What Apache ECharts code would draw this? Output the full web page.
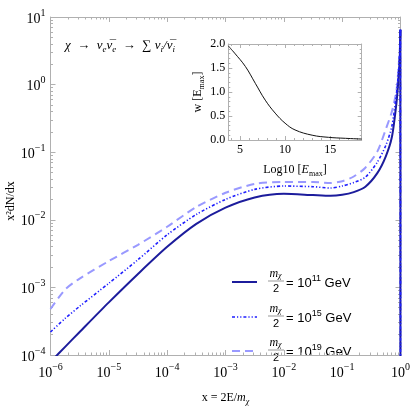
<!DOCTYPE html>
<html>
<head>
<meta charset="utf-8">
<script src="https://cdn.jsdelivr.net/npm/echarts@6/dist/echarts.min.js"></script>
<style>
  html, body { margin: 0; padding: 0; background: #fff; }
  #chart { width: 413px; height: 411px; }
</style>
</head>
<body>
<div id="chart"></div>
<script>
  // x = 2E/m_chi, shared by the three spectra (last point is the drop at x = 1)
  var xValues = [1e-6, 1.78e-6, 3.16e-6, 1e-5, 3.16e-5, 1e-4, 3.16e-4, 1e-3, 3.16e-3, 1e-2, 3.16e-2,
    0.063, 0.1, 0.158, 0.25, 0.4, 0.56, 0.71, 0.85, 0.93, 0.975, 0.995, 1.0]
  // x^2 dN/dx for m_chi/2 = 1e11, 1e15, 1e19 GeV
  var spec11 = [7.9e-5, 1.32e-4, 2.19e-4, 6.0e-4, 1.58e-3, 3.98e-3, 8.7e-3, 1.51e-2, 2.14e-2, 2.43e-2, 2.32e-2,
    2.26e-2, 2.34e-2, 2.57e-2, 3.09e-2, 4.9e-2, 8.7e-2, 0.166, 0.525, 1.32, 2.82, 6.46, 1e-5]
  var spec15 = [2.19e-4, 3.47e-4, 5.25e-4, 1.15e-3, 2.57e-3, 6.0e-3, 1.20e-2, 2.0e-2, 2.82e-2, 3.16e-2, 3.09e-2,
    2.95e-2, 3.16e-2, 3.55e-2, 4.27e-2, 7.1e-2, 0.126, 0.24, 0.72, 1.66, 3.3, 6.46, 1e-5]
  var spec19 = [4.79e-4, 9.3e-4, 1.35e-3, 2.45e-3, 4.27e-3, 7.9e-3, 1.55e-2, 2.51e-2, 3.39e-2, 3.63e-2, 3.63e-2,
    3.5e-2, 3.72e-2, 4.37e-2, 5.9e-2, 0.102, 0.219, 0.398, 0.81, 1.9, 3.55, 6.46, 1e-5]
  var seriesExp = ['11', '15', '19']

  // inset: w[E_max] against log10 E_max
  var insetX = [3.7, 4.4, 5.6, 6.7, 7.8, 8.9, 10, 11.1, 13, 14.8, 16.7, 18.5]
  var insetW = [1.96, 1.81, 1.53, 1.18, 0.83, 0.56, 0.35, 0.21, 0.10, 0.056, 0.035, 0.02]

  // tick labels
  var xMajor = [1e-6, 1e-5, 1e-4, 1e-3, 1e-2, 1e-1, 1]
  var yMajor = [1e-4, 1e-3, 1e-2, 1e-1, 1, 10]
  var insetXTicks = [5, 10, 15]

  function minorTicks(lo, hi) {
    var out = []
    for (var d = lo; d < hi; d++) {
      for (var k = 2; k <= 9; k++) out.push(+(k * Math.pow(10, d)).toPrecision(3))
    }
    return out
  }
  var xMinor = minorTicks(-6, 0)
  var yMinor = minorTicks(-4, 1)
  var insetXMinor = []
  for (var i = 4; i <= 18; i++) if (i % 5) insetXMinor.push(i)

  function pairs(xs, ys) {
    return xs.map(function(x, i) { return [x, ys[i]] })
  }

  var frameColor = '#b0b0b0'
  var serif = '"Liberation Serif", "DejaVu Serif", serif'
  var sans = '"Liberation Sans", Arial, sans-serif'

  var powRich = {
    b: { fontFamily: serif, fontSize: 14, color: '#000', lineHeight: 18, verticalAlign: 'bottom' },
    s: { fontFamily: serif, fontSize: 10, color: '#000', lineHeight: 18, verticalAlign: 'top' }
  }
  function powLabel(v) {
    var e = Math.round(Math.log10(v))
    return '{b|10}{s|' + (e < 0 ? '\u2212' + (-e) : e) + '}'
  }

  function logAxis(dir, pos, custom, len, labels, extra) {
    var ax = {
      type: 'log',
      gridIndex: 0,
      position: pos,
      min: dir === 'x' ? 1e-6 : 1e-4,
      max: dir === 'x' ? 1 : 10,
      axisLine: { show: labels !== null, lineStyle: { color: frameColor, width: 1 } },
      axisTick: { show: true, inside: true, length: len, customValues: custom, lineStyle: { color: frameColor } },
      minorTick: { show: false },
      splitLine: { show: false },
      axisLabel: labels ? labels : { show: false }
    }
    return Object.assign(ax, extra || {})
  }

  function valAxis(pos, extra) {
    return Object.assign({
      type: 'value',
      gridIndex: 1,
      position: pos,
      axisLine: { show: true, lineStyle: { color: frameColor } },
      axisTick: { inside: true, length: 4, lineStyle: { color: frameColor } },
      splitLine: { show: false },
      axisLabel: { show: false }
    }, extra)
  }

  var chart = echarts.init(document.getElementById('chart'))

  var lineStyles = [
    { color: '#1c1c9c', width: 2, type: 'solid' },
    { color: '#1e1eff', width: 1.6, type: [3, 2, 1.2, 2, 1.2, 2] },
    { color: '#9999ff', width: 2, type: [8, 5] }
  ]

  var legendY = [282, 317, 351]
  var arrow = '\u2002\u2192\u2002'
  var graphics = [
    {
      type: 'text', x: 65, y: 46,
      style: {
        text: '{i|\u03c7' + arrow + '\u03bd}{u|e}{i|\u03bd\u0305}{u|e}{i|' + arrow + '}{n|\u2211 }{i|\u03bd}{u|i}{i|/\u03bd\u0305}{u|i}',
        verticalAlign: 'middle',
        rich: {
          i: { fontFamily: serif, fontStyle: 'italic', fontSize: 13, lineHeight: 17, verticalAlign: 'middle', fill: '#000' },
          n: { fontFamily: serif, fontSize: 13, lineHeight: 17, verticalAlign: 'middle', fill: '#000' },
          u: { fontFamily: serif, fontStyle: 'italic', fontSize: 9, lineHeight: 17, verticalAlign: 'bottom', fill: '#000' }
        }
      }
    },
    {
      // y axis title
      type: 'text', x: 11, y: 201, rotation: Math.PI / 2,
      style: { text: 'x\u00b2dN/dx', align: 'center', verticalAlign: 'middle', font: '12px ' + serif, fill: '#000' }
    }
  ]
  legendY.forEach(function(cy, i) {
    graphics.push({
      type: 'line',
      shape: { x1: 232, y1: cy, x2: 257, y2: cy },
      style: { stroke: lineStyles[i].color, lineWidth: lineStyles[i].width, lineDash: lineStyles[i].type === 'solid' ? null : lineStyles[i].type }
    })
    graphics.push({
      type: 'text', x: 275.5, y: cy - 8,
      style: {
        text: '{m|m}{c|\u03c7}', align: 'center', verticalAlign: 'middle',
        rich: {
          m: { fontFamily: serif, fontStyle: 'italic', fontSize: 12, lineHeight: 12, verticalAlign: 'middle', fill: '#000' },
          c: { fontFamily: serif, fontStyle: 'italic', fontSize: 8, lineHeight: 12, verticalAlign: 'bottom', fill: '#000' }
        }
      }
    })
    graphics.push({
      type: 'line',
      shape: { x1: 268, y1: cy - 1, x2: 284, y2: cy - 1 },
      style: { stroke: '#555', lineWidth: 0.6 }
    })
    graphics.push({
      type: 'text', x: 276, y: cy + 7,
      style: { text: '2', align: 'center', verticalAlign: 'middle', font: '11px ' + sans, fill: '#000' }
    })
    graphics.push({
      type: 'text', x: 286, y: cy,
      style: {
        text: '{t|= 10}{s|' + seriesExp[i] + '}{t| GeV}', verticalAlign: 'middle',
        rich: {
          t: { fontFamily: sans, fontSize: 13, lineHeight: 16, verticalAlign: 'bottom', fill: '#000' },
          s: { fontFamily: sans, fontSize: 9, lineHeight: 16, verticalAlign: 'top', fill: '#000' }
        }
      }
    })
  })

  // smooth body of each spectrum, then the straight drop to zero at x = 1
  function spectrumSeries(ys, style, z) {
    var pts = pairs(xValues, ys)
    return [
      {
        type: 'line', xAxisIndex: 0, yAxisIndex: 0, z: z,
        data: pts.slice(0, -1), showSymbol: false, smooth: 0.25, clip: true,
        lineStyle: style
      },
      {
        type: 'line', xAxisIndex: 0, yAxisIndex: 0, z: z,
        data: pts.slice(-2), showSymbol: false, clip: true,
        lineStyle: style
      }
    ]
  }

  var option = {
    animation: false,
    backgroundColor: '#fff',
    grid: [
      { left: 50.5, top: 17, width: 351.2, height: 351 },
      { left: 228.3, top: 44, width: 133.4, height: 96 }
    ],
    xAxis: [
      logAxis('x', 'bottom', xMajor, 5, {
        show: true, customValues: xMajor, margin: 7, formatter: powLabel, rich: powRich
      }, {
        name: '{t|x = 2E/}{i|m}{u|\u03c7}', nameLocation: 'middle', nameGap: 35,
        nameTextStyle: {
          rich: {
            t: { fontFamily: serif, fontSize: 12, color: '#000', lineHeight: 16, verticalAlign: 'middle' },
            i: { fontFamily: serif, fontStyle: 'italic', fontSize: 12, color: '#000', lineHeight: 16, verticalAlign: 'middle' },
            u: { fontFamily: serif, fontStyle: 'italic', fontSize: 8, color: '#000', lineHeight: 16, verticalAlign: 'bottom' }
          }
        }
      }),
      logAxis('x', 'bottom', xMinor, 2.5, null),
      logAxis('x', 'top', xMajor, 5, false),
      logAxis('x', 'top', xMinor, 2.5, null),
      valAxis('bottom', {
        min: 3.7, max: 18.5,
        axisTick: { inside: true, length: 4, customValues: insetXTicks, lineStyle: { color: frameColor } },
        axisLabel: { show: true, customValues: insetXTicks, margin: 4, fontFamily: serif, fontSize: 12, color: '#000' },
        name: '{t|Log10 [}{i|E}{u|max}{t|]}', nameLocation: 'middle', nameGap: 22,
        nameTextStyle: {
          rich: {
            t: { fontFamily: serif, fontSize: 12, color: '#000', lineHeight: 16, verticalAlign: 'middle' },
            i: { fontFamily: serif, fontStyle: 'italic', fontSize: 12, color: '#000', lineHeight: 16, verticalAlign: 'middle' },
            u: { fontFamily: serif, fontSize: 8, color: '#000', lineHeight: 16, verticalAlign: 'bottom' }
          }
        }
      }),
      valAxis('bottom', {
        min: 3.7, max: 18.5, axisLine: { show: false },
        axisTick: { inside: true, length: 2, customValues: insetXMinor, lineStyle: { color: frameColor } }
      }),
      valAxis('top', {
        min: 3.7, max: 18.5,
        axisTick: { inside: true, length: 4, customValues: insetXTicks, lineStyle: { color: frameColor } }
      }),
      valAxis('top', {
        min: 3.7, max: 18.5, axisLine: { show: false },
        axisTick: { inside: true, length: 2, customValues: insetXMinor, lineStyle: { color: frameColor } }
      })
    ],
    yAxis: [
      logAxis('y', 'left', yMajor, 5, {
        show: true, customValues: yMajor, margin: 5, formatter: powLabel, rich: powRich
      }),
      logAxis('y', 'left', yMinor, 2.5, null),
      logAxis('y', 'right', yMajor, 5, false),
      logAxis('y', 'right', yMinor, 2.5, null),
      valAxis('left', {
        min: 0, max: 2, interval: 0.5,
        minorTick: { show: true, splitNumber: 5, length: 2, lineStyle: { color: frameColor } },
        axisLabel: {
          show: true, margin: 3, fontFamily: serif, fontSize: 12, color: '#000',
          formatter: function(v) { return v.toFixed(1) }
        },
        name: '{t|w [E}{u|max}{t|]}', nameLocation: 'middle', nameGap: 22,
        nameTextStyle: {
          rich: {
            t: { fontFamily: serif, fontSize: 12, color: '#000', lineHeight: 16, verticalAlign: 'middle' },
            u: { fontFamily: serif, fontSize: 8, color: '#000', lineHeight: 16, verticalAlign: 'bottom' }
          }
        }
      }),
      valAxis('right', {
        min: 0, max: 2, interval: 0.5,
        minorTick: { show: true, splitNumber: 5, length: 2, lineStyle: { color: frameColor } }
      })
    ],
    graphic: graphics,
    series: [].concat(
      spectrumSeries(spec19, lineStyles[2], 2),
      spectrumSeries(spec11, lineStyles[0], 3),
      spectrumSeries(spec15, lineStyles[1], 4),
      [{
        type: 'line', xAxisIndex: 4, yAxisIndex: 4,
        data: pairs(insetX, insetW), showSymbol: false, smooth: 0.4, clip: true,
        lineStyle: { color: '#111', width: 1 }
      }]
    )
  }

  chart.setOption(option)
</script>
</body>
</html>
